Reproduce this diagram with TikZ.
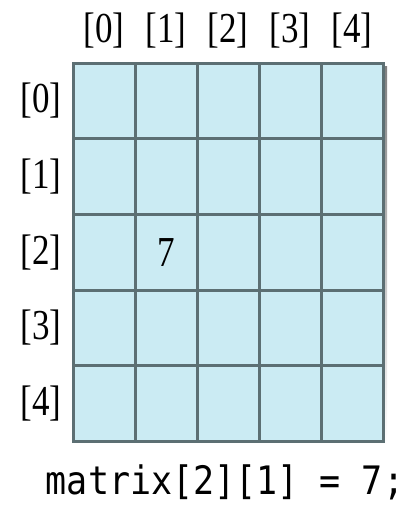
\documentclass[tikz,border=0pt]{standalone}
\usepackage{fontspec}
\setmainfont{Liberation Serif}
\newfontfamily\codefont{DejaVu Sans Mono}
\definecolor{cellfill}{HTML}{CBEBF3}
\definecolor{gridline}{HTML}{5C6F73}
\definecolor{shade}{HTML}{DADADA}
\begin{document}
\begin{tikzpicture}[x=1pt,y=-1pt,
  cell/.style={draw=gridline,line width=3pt,fill=cellfill,minimum width=62pt,minimum height=75.6pt,inner sep=0pt,outer sep=0pt,anchor=center},
  idx/.style={inner sep=0pt,font=\fontsize{35}{40}\selectfont},
  val/.style={inner sep=0pt,font=\fontsize{35}{40}\selectfont},
  code/.style={inner sep=0pt,font=\codefont\fontsize{35}{40}\selectfont}]
\useasboundingbox (0,0) rectangle (419,506);
\fill[shade] (76,66) rectangle (387,445);
\foreach \r in {0,...,4}{
  \foreach \c in {0,...,4}{
    \node[cell] (c-\r-\c) at ({104+\c*62},{101+\r*75.6}) {};
  }
}
\foreach \c in {0,...,4}{
  \node[idx] (col-\c) at ({104+\c*62},31) {\scalebox{1}[1.22]{[\c]}};
}
\foreach \r in {0,...,4}{
  \node[idx] (row-\r) at (41,{101+\r*75.6}) {\scalebox{1}[1.22]{[\r]}};
}
\node[val] (v) at (c-2-1) {\scalebox{1}[1.22]{7}};
\node[code] (stmt) at (225,482) {\scalebox{1}[1.12]{matrix[2][1] = 7;}};
\end{tikzpicture}
\end{document}
